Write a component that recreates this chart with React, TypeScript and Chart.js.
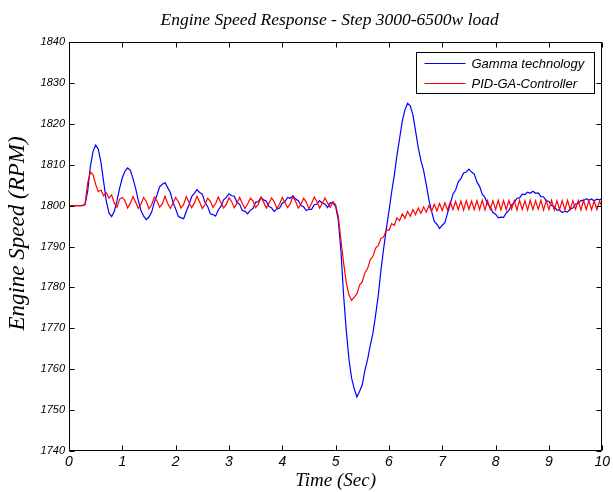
import { useEffect, useRef } from 'react';
import { Chart, registerables } from 'chart.js';

Chart.register(...registerables);

const TITLE = 'Engine Speed Response - Step 3000-6500w load';
const X_TITLE = 'Time (Sec)';
const Y_TITLE = 'Engine Speed (RPM)';
const SERIES_NAMES = ['Gamma technology', 'PID-GA-Controller'];
const SERIES_COLORS = ['#0000ff', '#ff0000'];

const X_MIN = 0;
const X_MAX = 10;
const X_STEP = 1;
const Y_MIN = 1740;
const Y_MAX = 1840;
const Y_STEP = 10;

// sampling interval of the recorded series (seconds)
const SAMPLE_STEP = 0.05;

// Gamma technology (blue), t = 0 .. 10 s
const GAMMA = [
  1800, 1800, 1800, 1800, 1800, 1800, 1800.2, 1803.5, 1809.5, 1813.2, 1814.8, 1813.8, 1810.5, 1805.8, 1801, 1798.2, 1797.3, 1798.6, 1801.2, 1804.3,
  1806.8, 1808.4, 1809.2, 1808.6, 1806.6, 1804.2, 1801.2, 1798.8, 1797.4, 1796.6, 1797.2, 1798.4, 1800.8, 1802.6, 1804.6, 1805.2, 1805.6, 1804.4, 1803.2, 1800.8,
  1799.2, 1797.4, 1797, 1796.8, 1798.6, 1800.2, 1802.2, 1803, 1803.9, 1803.2, 1802.8, 1800.8, 1799.8, 1798, 1797.8, 1797.4, 1799, 1799.8, 1801.4, 1802,
  1802.9, 1802.4, 1802.3, 1800.8, 1800.3, 1798.8, 1798.6, 1798, 1798.9, 1799.3, 1800.8, 1801, 1802, 1801.4, 1801.1, 1799.8, 1799.4, 1798.6, 1799.2, 1799.4,
  1800.6, 1801, 1802, 1801.8, 1802.4, 1801.6, 1801.2, 1800, 1799.7, 1798.8, 1799.1, 1799.1, 1800.2, 1800.4, 1801.2, 1800.6, 1800.4, 1799.5, 1800.7, 1800.6,
  1799.8, 1796.5, 1789, 1778, 1769.5, 1762.5, 1757.8, 1755.2, 1753.2, 1754.6, 1756.2, 1759.8, 1762.4, 1765.8, 1768.8, 1773.2, 1778, 1784.2, 1789.4, 1794.2,
  1798.6, 1803.2, 1807.4, 1812.2, 1816.4, 1820.6, 1823.4, 1825, 1824.4, 1822.2, 1818.2, 1814.2, 1811, 1808.6, 1805.2, 1801.4, 1798.6, 1796.2, 1795.4, 1794.4,
  1795.2, 1795.8, 1798.2, 1800.4, 1802.8, 1803.8, 1805.8, 1806.6, 1808, 1808.2, 1808.9, 1808.2, 1807.7, 1805.8, 1804.7, 1802.8, 1802, 1800.4, 1799.7, 1798.3,
  1797.9, 1797, 1797.2, 1797.1, 1798.2, 1798.8, 1800.2, 1800.7, 1801.8, 1801.9, 1802.8, 1802.7, 1803.3, 1803, 1803.5, 1803, 1803.1, 1802.2, 1802.1, 1801.2,
  1801, 1800, 1799.8, 1798.9, 1798.9, 1798.3, 1798.6, 1798.4, 1799.2, 1799.4, 1800.4, 1800.5, 1801.3, 1801.2, 1801.7, 1801.3, 1801.6, 1801.1, 1801.6, 1801.4,
  1801.7,
];

// PID-GA-Controller (red), t = 0 .. 10 s
const PID_GA = [
  1800, 1800, 1800, 1800, 1800, 1800, 1800.4, 1805.5, 1808.2, 1807.6, 1805.2, 1803.4, 1803.8, 1802.4, 1803.2, 1801.8, 1802.6, 1800.6, 1799.6, 1801.6,
  1802, 1801.2, 1799.4, 1800.6, 1802.2, 1800.8, 1799.3, 1800.4, 1802, 1801, 1799.2, 1800.2, 1802.1, 1801.2, 1799.6, 1800.4, 1802.3, 1800.6, 1799.3, 1800.6,
  1802, 1801, 1799.4, 1800.3, 1802.2, 1800.8, 1799.5, 1800.6, 1802.3, 1800.9, 1799.3, 1800.2, 1801.8, 1801.1, 1799.6, 1800.5, 1802.1, 1800.7, 1799.4, 1800.3,
  1801.9, 1801, 1799.5, 1800.6, 1802, 1800.6, 1799.3, 1800.4, 1801.8, 1801.2, 1799.5, 1800.3, 1802.1, 1800.8, 1799.4, 1800.6, 1801.9, 1800.9, 1799.3, 1800.4,
  1802, 1800.7, 1799.5, 1800.5, 1802.2, 1801, 1799.4, 1800.3, 1801.8, 1800.8, 1799.2, 1800.6, 1802.1, 1801, 1799.4, 1800.5, 1801.9, 1800.6, 1799.6, 1801,
  1800.2, 1797.4, 1791.6, 1786, 1781.2, 1778.2, 1776.8, 1777.6, 1778.4, 1780.6, 1781.4, 1783.6, 1784.6, 1786.8, 1787.6, 1789.6, 1790.2, 1792, 1792.3, 1794,
  1794, 1795.6, 1795.2, 1797, 1796.3, 1798, 1796.9, 1798.6, 1797.4, 1799, 1797.8, 1799.4, 1798.1, 1799.7, 1798.4, 1800, 1798.6, 1800.3, 1798.7, 1800.5,
  1798.8, 1800.7, 1798.9, 1800.9, 1799, 1801, 1799, 1801.1, 1798.9, 1801.2, 1799.1, 1801.1, 1799, 1801.2, 1799, 1801.3, 1798.9, 1801.2, 1799.1, 1801.2,
  1799, 1801.3, 1798.9, 1801.2, 1799, 1801.3, 1799.1, 1801.2, 1798.9, 1801.3, 1799, 1801.2, 1798.9, 1801.3, 1799, 1801.2, 1799.1, 1801.3, 1798.9, 1801.2,
  1799, 1801.3, 1798.9, 1801.2, 1799, 1801.2, 1798.9, 1801.3, 1799, 1801.2, 1799.1, 1801.2, 1798.9, 1801.3, 1799, 1801.2, 1799, 1801.1, 1799, 1801.1,
  1799.6,
];

const toPoints = (values: number[]) => values.map((v, i) => ({ x: i * SAMPLE_STEP, y: v }));

const TICK_FONT_FAMILY = '"Liberation Sans", Arial, sans-serif';
const SERIF = '"Liberation Serif", "Times New Roman", serif';

const framePlugin = {
  id: 'matlabFrame',
  afterDraw(chart: any) {
    const { ctx, chartArea: a, scales } = chart;
    const L = Math.round(a.left) + 0.5;
    const R = Math.round(a.right) - 0.5;
    const T = Math.round(a.top) + 0.5;
    const B = Math.round(a.bottom) - 0.5;
    const TL = 5;
    ctx.save();
    ctx.strokeStyle = '#000';
    ctx.lineWidth = 1;
    ctx.beginPath();
    ctx.rect(L, T, R - L, B - T);
    ctx.stroke();
    ctx.beginPath();
    for (const t of scales.x.ticks) {
      const px = Math.round(scales.x.getPixelForValue(t.value)) + 0.5;
      ctx.moveTo(px, B);
      ctx.lineTo(px, B - TL);
      ctx.moveTo(px, T);
      ctx.lineTo(px, T + TL);
    }
    for (const t of scales.y.ticks) {
      const py = Math.round(scales.y.getPixelForValue(t.value)) + 0.5;
      ctx.moveTo(L, py);
      ctx.lineTo(L + TL, py);
      ctx.moveTo(R, py);
      ctx.lineTo(R - TL, py);
    }
    ctx.stroke();

    // titles
    ctx.fillStyle = '#000';
    ctx.font = `italic 17.5px ${SERIF}`;
    ctx.textAlign = 'center';
    ctx.textBaseline = 'middle';
    ctx.fillText(TITLE, (a.left + a.right) / 2 - 6, 20);

    ctx.save();
    ctx.translate(18, (a.top + a.bottom) / 2 - 13);
    ctx.rotate(-Math.PI / 2);
    ctx.font = `italic 23px ${SERIF}`;
    ctx.fillText(Y_TITLE, 0, 0);
    ctx.restore();

    // legend
    const bx = Math.round(a.right) - 186 + 0.5;
    const by = Math.round(a.top) + 10 + 0.5;
    const bw = 178;
    const bh = 41;
    ctx.fillStyle = '#fff';
    ctx.fillRect(bx, by, bw, bh);
    ctx.strokeStyle = '#000';
    ctx.strokeRect(bx, by, bw, bh);
    ctx.font = `italic 13px ${TICK_FONT_FAMILY}`;
    ctx.textAlign = 'left';
    ctx.textBaseline = 'middle';
    SERIES_NAMES.forEach((name, i) => {
      const ly = Math.round(by + 10 + i * 20) + 0.5;
      ctx.strokeStyle = SERIES_COLORS[i];
      ctx.beginPath();
      ctx.moveTo(bx + 8, ly);
      ctx.lineTo(bx + 49, ly);
      ctx.stroke();
      ctx.fillStyle = '#000';
      ctx.fillText(name, bx + 55, ly + 1);
    });
    ctx.restore();
  },
};

export default function App() {
  const ref = useRef<HTMLCanvasElement | null>(null);

  useEffect(() => {
    if (!ref.current) return;
    const chart = new Chart(ref.current, {
      type: 'line',
      data: {
        datasets: [
          {
            label: SERIES_NAMES[0],
            data: toPoints(GAMMA),
            borderColor: SERIES_COLORS[0],
            backgroundColor: SERIES_COLORS[0],
            borderWidth: 1.2,
            pointRadius: 0,
            tension: 0,
            order: 1,
          },
          {
            label: SERIES_NAMES[1],
            data: toPoints(PID_GA),
            borderColor: SERIES_COLORS[1],
            backgroundColor: SERIES_COLORS[1],
            borderWidth: 1.2,
            pointRadius: 0,
            tension: 0,
            order: 0,
          },
        ],
      },
      options: {
        responsive: false,
        animation: false,
        events: [],
        layout: { padding: { top: 42, right: 8, bottom: 0, left: 0 } },
        plugins: {
          legend: { display: false },
          title: { display: false },
          tooltip: { enabled: false },
        },
        scales: {
          x: {
            type: 'linear',
            min: X_MIN,
            max: X_MAX,
            grid: { display: false, drawTicks: false },
            border: { display: false },
            ticks: {
              stepSize: X_STEP,
              color: '#000',
              padding: 3,
              maxRotation: 0,
              font: { family: TICK_FONT_FAMILY, style: 'italic', size: 14 },
              callback: (v: any) => String(v),
            },
            title: {
              display: true,
              text: X_TITLE,
              color: '#000',
              padding: { top: 0, bottom: 0 },
              font: { family: SERIF, style: 'italic', size: 19 },
            },
            afterFit: (scale: any) => {
              scale.height = 41;
            },
          },
          y: {
            type: 'linear',
            min: Y_MIN,
            max: Y_MAX,
            grid: { display: false, drawTicks: false },
            border: { display: false },
            ticks: {
              stepSize: Y_STEP,
              color: '#000',
              padding: 4,
              font: { family: TICK_FONT_FAMILY, style: 'italic', size: 11 },
              callback: (v: any) => String(v),
            },
            afterFit: (scale: any) => {
              scale.width = 69;
            },
          },
        },
      },
      plugins: [framePlugin],
    });
    return () => chart.destroy();
  }, []);

  return (
    <div style={{ position: 'absolute', left: 0, top: 0, width: 613, height: 492, background: '#fff' }}>
      <canvas ref={ref} width={613} height={492} />
    </div>
  );
}
